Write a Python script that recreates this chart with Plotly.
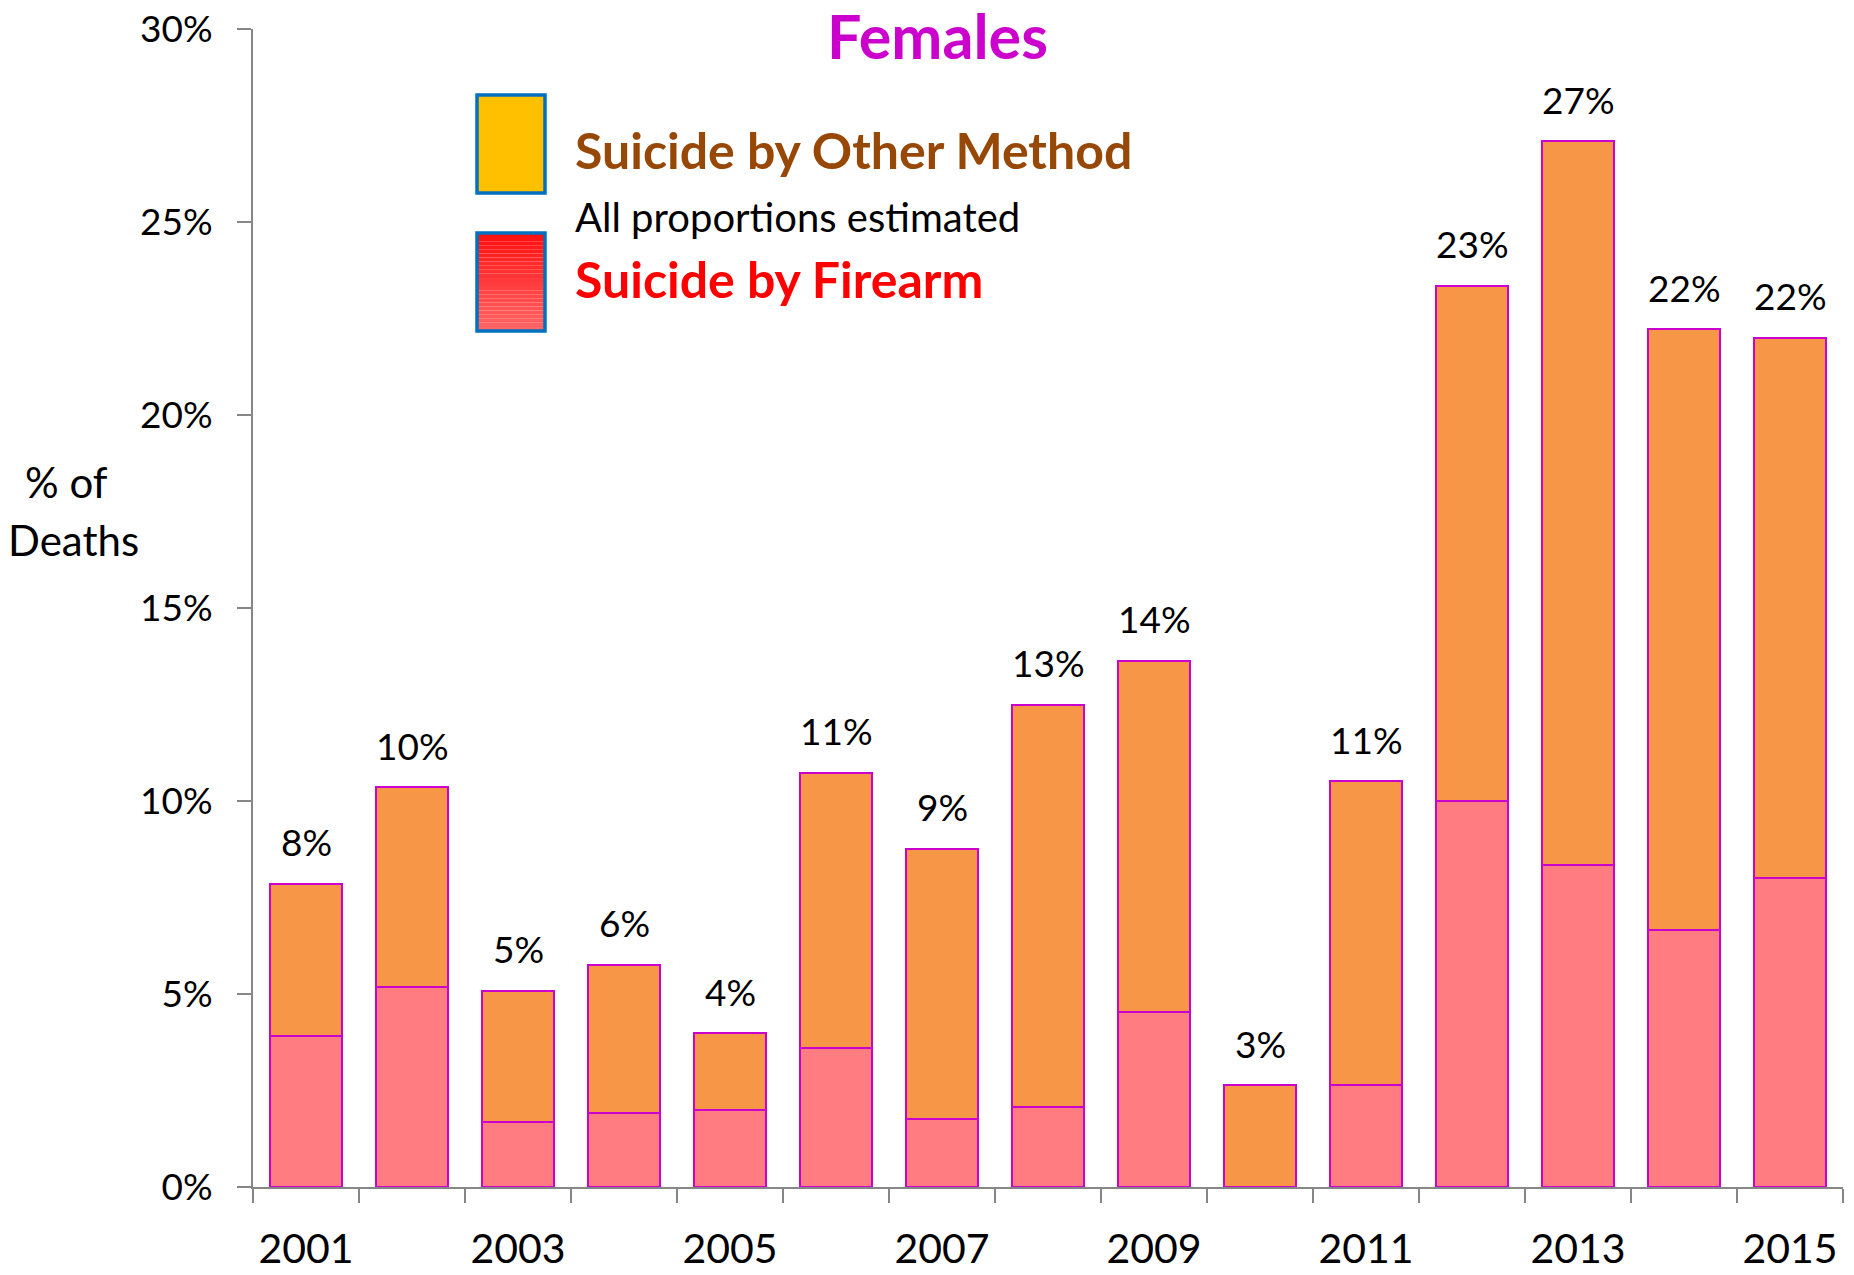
import plotly.graph_objects as go

# values (percent of deaths)
years = list(range(2001, 2016))
firearm = [3.92, 5.18, 1.69, 1.93, 1.99, 3.59, 1.75, 2.08, 4.54, 0.0, 2.64, 9.99, 8.34, 6.65, 8.00]
other = [3.93, 5.18, 3.40, 3.83, 1.99, 7.14, 7.01, 10.42, 9.10, 2.64, 7.87, 13.36, 18.75, 15.57, 14.00]
total_labels = ["8%", "10%", "5%", "6%", "4%", "11%", "9%", "13%", "14%", "3%",
                "11%", "23%", "27%", "22%", "22%"]
shown_years = years[::2]

FONT = "Lato"
PAGE_PAD = 8  # default body margin of the page
W, H = 1854 - 2 * PAGE_PAD, 1275 - 2 * PAGE_PAD
L, R, T, B = 245, 3, 21, 80


# page pixel -> paper helpers for the drawn legend/titles
def px_x(p):
    return (p - PAGE_PAD - L) / (W - L - R)


def px_y(p):
    return (H - B - (p - PAGE_PAD)) / (H - T - B)


fig = go.Figure()
fig.add_trace(go.Bar(x=years, y=firearm, name="Suicide by Firearm",
                     marker=dict(color="#FF7C80", line=dict(color="#CC00CC", width=2))))
fig.add_trace(go.Bar(x=years, y=other, name="Suicide by Other Method",
                     marker=dict(color="#F79646", line=dict(color="#CC00CC", width=2))))

totals = [f + o for f, o in zip(firearm, other)]
for yr, tot, lab in zip(years, totals, total_labels):
    fig.add_annotation(x=yr, y=tot, text=lab, showarrow=False, yshift=42, yanchor="middle",
                       font=dict(family=FONT, size=37, color="black"))

# title and text
fig.add_annotation(xref="paper", yref="paper", x=px_x(937), y=px_y(35), text="<b>Females</b>",
                   showarrow=False, xanchor="center", yanchor="middle",
                   font=dict(family=FONT, size=61, color="#CC00CC"))
fig.add_annotation(xref="paper", yref="paper", x=px_x(573), y=px_y(150),
                   text="<b>Suicide by Other Method</b>", showarrow=False,
                   xanchor="left", yanchor="middle", font=dict(family=FONT, size=50, color="#984806"))
fig.add_annotation(xref="paper", yref="paper", x=px_x(573), y=px_y(217),
                   text="All proportions estimated", showarrow=False,
                   xanchor="left", yanchor="middle", font=dict(family=FONT, size=40, color="black"))
fig.add_annotation(xref="paper", yref="paper", x=px_x(573), y=px_y(279),
                   text="<b>Suicide by Firearm</b>", showarrow=False,
                   xanchor="left", yanchor="middle", font=dict(family=FONT, size=50, color="#FF0000"))
fig.add_annotation(xref="paper", yref="paper", x=px_x(66), y=px_y(482),
                   text="% of", showarrow=False, xanchor="center", yanchor="middle",
                   font=dict(family=FONT, size=42, color="black"))
fig.add_annotation(xref="paper", yref="paper", x=px_x(73), y=px_y(540),
                   text="Deaths", showarrow=False, xanchor="center", yanchor="middle",
                   font=dict(family=FONT, size=42, color="black"))

# legend swatches (drawn by hand like the original)
fig.add_shape(type="rect", xref="paper", yref="paper",
              x0=px_x(477), x1=px_x(545), y0=px_y(193), y1=px_y(95),
              fillcolor="#FFC000", line=dict(color="#0070C0", width=3.5))
n = 24
for i in range(n):
    t = i / (n - 1)
    col = "rgb(255,%d,%d)" % (int(16 + t * 86), int(16 + t * 86))
    fig.add_shape(type="rect", xref="paper", yref="paper",
                  x0=px_x(477), x1=px_x(545),
                  y0=px_y(233 + (i + 1) * 98 / n), y1=px_y(233 + i * 98 / n),
                  fillcolor=col, line=dict(width=0))
fig.add_shape(type="rect", xref="paper", yref="paper",
              x0=px_x(477), x1=px_x(545), y0=px_y(331), y1=px_y(233),
              line=dict(color="#0070C0", width=3.5))

fig.update_layout(
    barmode="stack",
    bargap=0.33,
    showlegend=False,
    width=W, height=H,
    margin=dict(l=L, r=R, t=T, b=B, autoexpand=False),
    plot_bgcolor="white", paper_bgcolor="white",
    font=dict(family=FONT, color="black"),
)
fig.update_xaxes(
    range=[years[0] - 0.5, years[-1] + 0.5],
    tickvals=shown_years, ticktext=[str(y) for y in shown_years],
    ticks="", showgrid=False, zeroline=False, automargin=False,
    showline=True, linecolor="#868686", linewidth=2,
    tickfont=dict(family=FONT, size=41, color="black"),
    ticklabelstandoff=25, ticklabeloverflow="allow",
    minor=dict(tickvals=[y - 0.5 for y in years] + [years[-1] + 0.5],
               ticks="outside", ticklen=14, tickwidth=2, tickcolor="#868686", showgrid=False),
)
fig.update_yaxes(
    range=[0, 30], dtick=5, ticksuffix="%",
    ticks="outside", ticklen=14, tickwidth=2, tickcolor="#868686",
    showgrid=False, zeroline=False, automargin=False,
    showline=True, linecolor="#868686", linewidth=2,
    tickfont=dict(family=FONT, size=37, color="black"),
    ticklabelstandoff=17, ticklabeloverflow="allow",
)

fig.write_html("out.html")
